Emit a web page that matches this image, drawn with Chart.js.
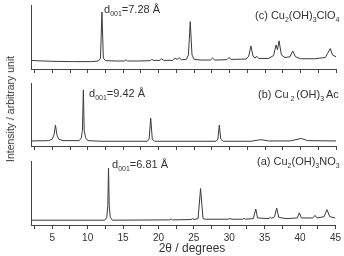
<!DOCTYPE html>
<html><head><meta charset="utf-8">
<script src="https://cdn.jsdelivr.net/npm/chart.js@4/dist/chart.umd.min.js"></script>
<style>
html,body{margin:0;padding:0;background:#fff;}
#wrap{position:relative;width:344px;height:256px;overflow:hidden;background:#fff;font-family:"Liberation Sans",Arial,sans-serif;color:#333;}
canvas{position:absolute;left:0;top:0;}
.t{position:absolute;white-space:nowrap;font-size:11px;line-height:12px;color:#333;}
.t sub{font-size:7px;vertical-align:-3px;line-height:0;}
#ytitle{position:absolute;left:10px;top:109px;transform:translate(-50%,-50%) rotate(-90deg);white-space:nowrap;font-size:10.5px;color:#333;}
#xtitle{position:absolute;left:192px;top:241px;transform:translateX(-50%);white-space:nowrap;font-size:12px;line-height:14px;color:#333;}
</style></head>
<body><div id="wrap">
<canvas id="c1" width="344" height="256"></canvas>
<canvas id="c2" width="344" height="256"></canvas>
<canvas id="c3" width="344" height="256"></canvas>
<div class="t" style="left:104px;top:3px;">d<sub>001</sub>=7.28 Å</div>
<div class="t" style="left:255px;top:9px;">(c) Cu<sub>2</sub>(OH)<sub>3</sub>ClO<sub>4</sub></div>
<div class="t" style="left:89px;top:87px;">d<sub>001</sub>=9.42 Å</div>
<div class="t" style="left:258px;top:88px;">(b) Cu<sub> 2 </sub>(OH)<sub>3 </sub>Ac</div>
<div class="t" style="left:112px;top:158px;">d<sub>001</sub>=6.81 Å</div>
<div class="t" style="left:257px;top:155px;">(a) Cu<sub>2</sub>(OH)<sub>3</sub>NO<sub>3</sub></div>
<div id="ytitle">Intensity / arbitrary unit</div>
<div id="xtitle">2θ / degrees</div>
</div>
<script>
// ---- data ----
const tickValues = [2.5,5,7.5,10,12.5,15,17.5,20,22.5,25,27.5,30,32.5,35,37.5,40,42.5,45];
const tickLabels = ['5','10','15','20','25','30','35','40','45'];

const thetaC = [2,3,5,8,10.5,11.5,11.8,12.0,12.2,12.5,14,15.2,15.4,15.6,17,18.8,19.0,19.3,20.2,20.4,20.7,22.0,22.3,22.6,22.9,23.2,23.9,24.2,24.45,24.7,25.0,26,27.3,27.6,27.9,29.6,29.9,30.2,32.3,32.7,33.0,33.3,33.6,33.8,34.1,35.5,36.2,36.55,36.75,36.97,37.3,37.8,38.5,38.9,39.3,40,42,43.5,43.8,44.2,44.5,45];
const intC   = [13.6,12.8,12,11.5,11.5,12.5,17,89,17,13,12.5,12.5,14.5,12.5,12.5,13,15,13.5,13.5,16,13.5,13.5,17,15,17.5,14.5,15,22,74,22,15,14,14,17,14,14.5,18,15,15.5,20,36,20,17,20,16.5,16.5,21,37.5,30,44,22,18,19,28,19,16,16,18,24,32,22,19];

const thetaB = [2,4.5,5.0,5.25,5.45,5.65,5.9,6.5,8.8,9.1,9.25,9.38,9.5,9.7,10.0,12,18.4,18.65,18.88,19.1,19.4,28.1,28.35,28.55,28.75,29.1,33,34.4,35.5,38.5,40.1,41,45];
const intB   = [8,8.5,11,18,33,18,11,8.5,8.5,13,25,89,25,13,8.5,7.5,7.5,11,44,11,7.5,7.5,11,33,11,7.5,7.5,10,8,8,12,8.5,8];

const thetaA = [2,12.4,12.7,12.85,12.95,13.05,13.2,13.5,21.6,21.8,22,24.6,24.8,25.0,25.6,25.95,26.3,26.6,29.8,30.1,30.4,31.9,32.1,32.3,33.4,33.75,34.0,35.6,35.8,36.0,36.4,36.7,37.0,38.0,39.6,39.9,40.2,41.8,42.1,42.4,43.4,43.8,44.2,45];
const intA   = [7.5,7.5,12,30,89,30,12,7.5,8,9.5,8,8.5,10,8.5,10,57,10,9,9,10,9,9,10.5,9,10,25,11,10,12,10.5,13,26.5,12,10,11,19,11,11,15,11,13,24,13,11];

// ---- drawing ----
const AX = '#444';
function pts(xs, ys){ return xs.map((x,i)=>({x:x,y:ys[i]})); }

function panel(id, xs, ys, top, bottom, showLabels){
  const xh = showLabels ? 18 : 4;
  new Chart(document.getElementById(id), {
    type:'line',
    data:{datasets:[{data:pts(xs,ys),borderColor:'#3a3a3a',borderWidth:1,pointRadius:0,tension:0,fill:false}]},
    options:{
      responsive:false,animation:false,devicePixelRatio:1,
      plugins:{legend:{display:false},tooltip:{enabled:false}},
      layout:{padding:{left:31,right:8,top:top,bottom:256-bottom-xh}},
      scales:{
        x:{type:'linear',min:2,max:45,
          afterBuildTicks:(s)=>{ s.ticks = tickValues.map(v=>({value:v})); },
          afterFit:(s)=>{ s.height = xh; },
          grid:{display:true,drawOnChartArea:false,drawTicks:true,tickLength:4,color:AX,lineWidth:1},
          border:{display:true,color:AX,width:1},
          ticks:{display:showLabels,autoSkip:false,maxRotation:0,padding:3,color:'#333',
            font:{family:'"Liberation Sans", Arial, sans-serif',size:10},
            callback:(v)=>{ const s=String(v); return tickLabels.includes(s)?s:''; }}
        },
        y:{min:0,max:100,
          afterFit:(s)=>{ s.width = 0; },
          ticks:{display:false},
          grid:{display:false,drawTicks:false},
          border:{display:true,color:AX,width:1}
        }
      }
    }
  });
}
panel('c1', thetaC, intC, 5, 69, false);
panel('c2', thetaB, intB, 83, 146, false);
panel('c3', thetaA, intA, 161, 225, true);
</script>
</body></html>
